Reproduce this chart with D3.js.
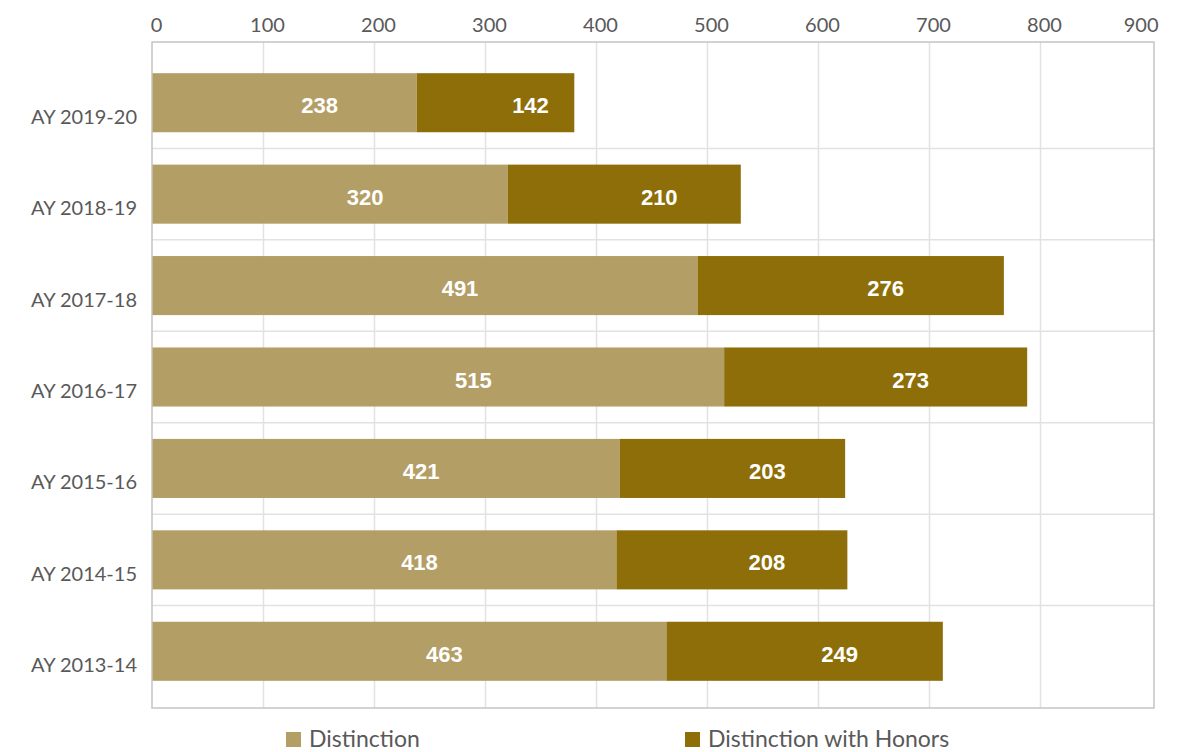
<!DOCTYPE html>
<html>
<head>
<meta charset="utf-8">
<script src="https://cdn.jsdelivr.net/npm/d3@7"></script>
<style>
  body { margin: 0; background: #fff; }
  svg { display: block; }
</style>
</head>
<body>
<div id="chart"></div>
<script>
var width = 1180,
  height = 752;

// data, top row first
var years = ["AY 2019-20", "AY 2018-19", "AY 2017-18", "AY 2016-17", "AY 2015-16", "AY 2014-15", "AY 2013-14"];
var distinction = [238, 320, 491, 515, 421, 418, 463];
var honors = [142, 210, 276, 273, 203, 208, 249];
var seriesNames = ["Distinction", "Distinction with Honors"];
var xTicks = [0, 100, 200, 300, 400, 500, 600, 700, 800, 900];

var colors = ["#B39E66", "#8D6E08"];

var frame = { left: 152, right: 1154, top: 42, bottom: 708 };

var rows = years.map(function (y, i) {
  return { year: y, d: distinction[i], h: honors[i] };
});

var x = d3.scaleLinear()
  .domain([0, 900])
  .range([152.5, 1151.5]);

var y = d3.scaleBand()
  .domain(years)
  .range([57, 697])
  .paddingInner(0.354)
  .paddingOuter(0.177);

var svg = d3.select("#chart")
  .append("svg")
  .attr("width", width)
  .attr("height", height);

// vertical gridlines
svg.append("g")
  .selectAll("line")
  .data(xTicks.slice(1, -1))
  .enter()
  .append("line")
  .attr("x1", function (d) { return x(d); })
  .attr("x2", function (d) { return x(d); })
  .attr("y1", frame.top)
  .attr("y2", frame.bottom)
  .attr("stroke", "#e2e2e2")
  .attr("stroke-width", 1.5);

// horizontal gridlines between categories
var gap = y.step() * y.paddingInner() / 2;
svg.append("g")
  .selectAll("line")
  .data(years.slice(1))
  .enter()
  .append("line")
  .attr("x1", frame.left)
  .attr("x2", frame.right)
  .attr("y1", function (d) { return y(d) - gap; })
  .attr("y2", function (d) { return y(d) - gap; })
  .attr("stroke", "#e2e2e2")
  .attr("stroke-width", 1.5);

// plot frame
svg.append("rect")
  .attr("x", frame.left)
  .attr("y", frame.top)
  .attr("width", frame.right - frame.left)
  .attr("height", frame.bottom - frame.top)
  .attr("fill", "none")
  .attr("stroke", "#c4c4c4")
  .attr("stroke-width", 1.5);

// stacked bars
var stack = d3.stack().keys(["d", "h"]);
var layers = stack(rows);

var layer = svg.append("g")
  .selectAll("g")
  .data(layers)
  .enter()
  .append("g")
  .attr("fill", function (d, i) { return colors[i]; });

layer.selectAll("rect")
  .data(function (d) { return d; })
  .enter()
  .append("rect")
  .attr("x", function (d) { return x(d[0]); })
  .attr("y", function (d) { return y(d.data.year); })
  .attr("width", function (d) { return x(d[1]) - x(d[0]); })
  .attr("height", y.bandwidth());

// value labels
layer.selectAll("text")
  .data(function (d) { return d; })
  .enter()
  .append("text")
  .attr("x", function (d) { return (x(d[0]) + x(d[1])) / 2 + 35; })
  .attr("y", function (d) { return y(d.data.year) + y.bandwidth() / 2 + 10.5; })
  .attr("text-anchor", "middle")
  .attr("fill", "#fff")
  .style("font-family", "'Liberation Sans', Arial, sans-serif")
  .style("font-weight", "bold")
  .style("font-size", "22px")
  .text(function (d) { return d[1] - d[0]; });

// top axis labels
svg.append("g")
  .selectAll("text")
  .data(xTicks)
  .enter()
  .append("text")
  .attr("x", function (d, i) { return i === xTicks.length - 1 ? x(d) + 7 : x(d) + 4; })
  .attr("y", 31.5)
  .attr("text-anchor", function (d, i) { return i === xTicks.length - 1 ? "end" : "middle"; })
  .attr("fill", "#595959")
  .style("font-family", "Lato, sans-serif")
  .style("font-size", "20px")
  .text(function (d) { return d; });

// category labels
svg.append("g")
  .selectAll("text")
  .data(years)
  .enter()
  .append("text")
  .attr("x", 137)
  .attr("y", function (d) { return y(d) + y.bandwidth() / 2 + 21; })
  .attr("text-anchor", "end")
  .attr("fill", "#595959")
  .style("font-family", "Lato, sans-serif")
  .style("font-size", "20px")
  .text(function (d) { return d; });

// legend
var legendX = [286, 685];
var legend = svg.append("g")
  .selectAll("g")
  .data(seriesNames)
  .enter()
  .append("g")
  .attr("transform", function (d, i) { return "translate(" + legendX[i] + ",732)"; });

legend.append("rect")
  .attr("width", 15)
  .attr("height", 15)
  .attr("fill", function (d, i) { return colors[i]; });

legend.append("text")
  .attr("x", 23)
  .attr("y", 14.5)
  .attr("fill", "#595959")
  .style("font-family", "Lato, sans-serif")
  .style("font-size", "23px")
  .text(function (d) { return d; });
</script>
</body>
</html>
